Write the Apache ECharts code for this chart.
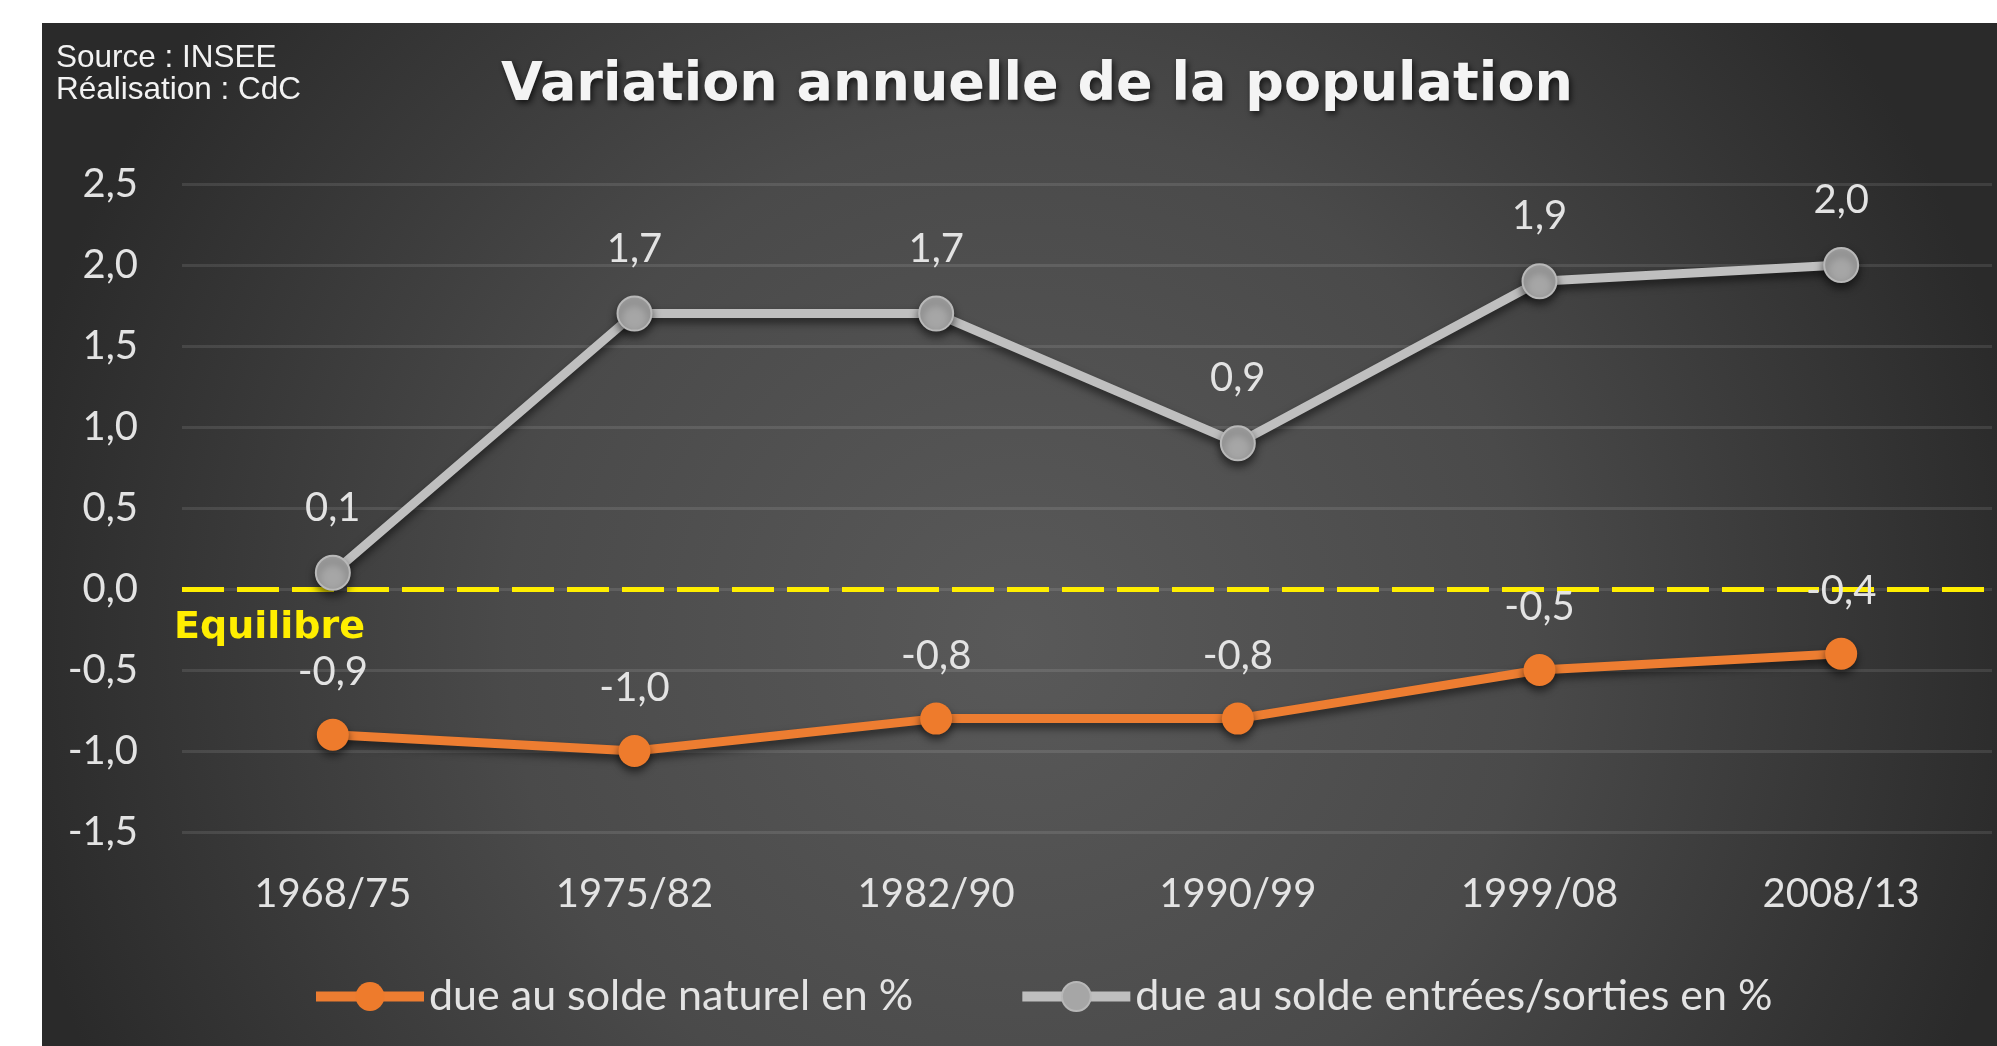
<!DOCTYPE html>
<html>
<head>
<meta charset="utf-8">
<script src="https://cdn.jsdelivr.net/npm/echarts@6/dist/echarts.min.js"></script>
<style>
  html, body { margin: 0; padding: 0; background: #fff; }
  #main { width: 1997px; height: 1046px; }
</style>
</head>
<body>
<div id="main"></div>
<script>
// periodes intercensitaires
var periodes = ['1968/75', '1975/82', '1982/90', '1990/99', '1999/08', '2008/13'];
// variation due au solde naturel (%)
var soldeNaturel = [-0.9, -1.0, -0.8, -0.8, -0.5, -0.4];
// variation due au solde entrees/sorties (%)
var soldeMigratoire = [0.1, 1.7, 1.7, 0.9, 1.9, 2.0];
// axe y
var yMin = -1.5, yMax = 2.5, yPas = 0.5;

function virgule(v) {
    return Number(v).toFixed(1).replace('.', ',');
}

var chart = echarts.init(document.getElementById('main'));

var ombre = {
    shadowColor: 'rgba(0,0,0,0.55)',
    shadowBlur: 8,
    shadowOffsetY: 5
};

var etiquette = {
    show: true,
    position: 'top',
    distance: 27,
    color: '#e3e3e3',
    fontFamily: 'Lato',
    fontSize: 40,
    formatter: function (p) { return virgule(p.value); }
};

var option = {
    backgroundColor: '#ffffff',
    animation: false,
    graphic: [{
        type: 'rect',
        z: -10,
        shape: { x: 42, y: 23, width: 1955, height: 1023 },
        style: {
            fill: new echarts.graphic.RadialGradient(0.5, 0.6, 1.0, [
                { offset: 0, color: '#595959' },
                { offset: 0.5, color: '#4a4a4a' },
                { offset: 1, color: '#2a2a2a' }
            ])
        }
    }],
    title: [{
        text: 'Variation annuelle de la population',
        left: 1032,
        textAlign: 'center',
        top: 54,
        textStyle: {
            fontFamily: 'DejaVu Sans',
            fontWeight: 'bold',
            fontSize: 54,
            color: '#f4f4f4',
            textShadowColor: 'rgba(0,0,0,0.7)',
            textShadowBlur: 6,
            textShadowOffsetX: 2,
            textShadowOffsetY: 3
        }
    }, {
        text: 'Source : INSEE\nRéalisation : CdC',
        left: 56,
        top: 42,
        padding: 0,
        textStyle: {
            fontFamily: 'Liberation Sans',
            fontWeight: 'normal',
            fontSize: 31.5,
            lineHeight: 32,
            color: '#f2f2f2'
        }
    }],
    legend: {
        left: 306,
        top: 970,
        itemWidth: 108,
        itemHeight: 36,
        itemGap: 104,
        lineStyle: { width: 10 },
        textStyle: {
            color: '#e3e3e3',
            fontFamily: 'Lato',
            fontSize: 43
        },
        data: ['due au solde naturel en %', 'due au solde entrées/sorties en %']
    },
    grid: {
        left: 182,
        right: 5,
        top: 184,
        bottom: 214,
        containLabel: false,
        outerBoundsMode: 'none'
    },
    xAxis: {
        type: 'category',
        data: periodes,
        boundaryGap: true,
        axisLine: { show: false },
        axisTick: { show: false },
        axisLabel: {
            margin: 42,
            color: '#e3e3e3',
            fontFamily: 'Lato',
            fontSize: 40
        }
    },
    yAxis: {
        type: 'value',
        min: yMin,
        max: yMax,
        interval: yPas,
        axisLine: { show: false },
        axisTick: { show: false },
        axisLabel: {
            margin: 44,
            color: '#e3e3e3',
            fontFamily: 'Lato',
            fontSize: 40,
            formatter: virgule
        },
        splitLine: {
            lineStyle: { color: 'rgba(255,255,255,0.10)', width: 3 }
        }
    },
    series: [{
        name: 'due au solde naturel en %',
        type: 'line',
        data: soldeNaturel,
        symbol: 'circle',
        symbolSize: 32,
        z: 3,
        lineStyle: Object.assign({ color: '#ed7d31', width: 9 }, ombre),
        itemStyle: Object.assign({ color: '#ee7b2c' }, ombre),
        label: etiquette,
        markLine: {
            silent: true,
            symbol: 'none',
            z: 1,
            lineStyle: { color: '#ffee00', width: 5, type: [42, 13] },
            label: {
                show: true,
                position: 'insideStartBottom',
                distance: [-8, 20],
                formatter: 'Equilibre',
                color: '#ffee00',
                fontFamily: 'DejaVu Sans',
                fontWeight: 'bold',
                fontSize: 38
            },
            data: [{ yAxis: 0 }]
        }
    }, {
        name: 'due au solde entrées/sorties en %',
        type: 'line',
        data: soldeMigratoire,
        symbol: 'circle',
        symbolSize: 34,
        z: 3,
        lineStyle: Object.assign({ color: '#bfbfbf', width: 9 }, ombre),
        itemStyle: Object.assign({
            color: '#a6a6a6',
            borderColor: '#b8b8b8',
            borderWidth: 2
        }, ombre),
        label: etiquette
    }]
};

chart.setOption(option);
</script>
</body>
</html>
